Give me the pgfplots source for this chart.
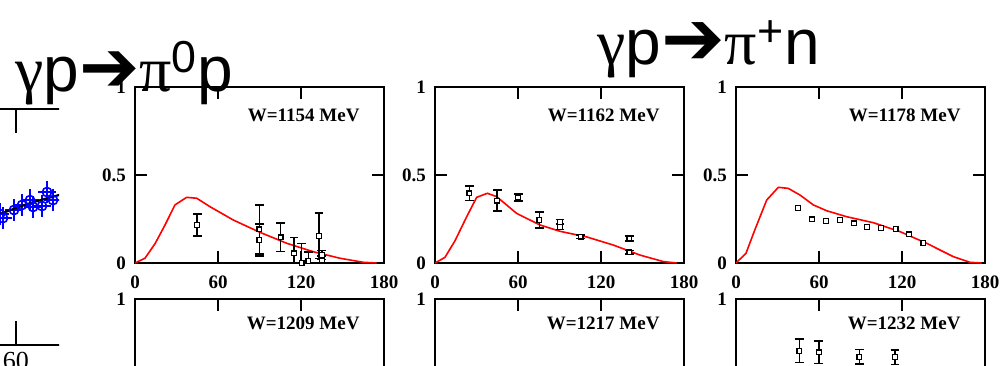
\documentclass[border=0pt]{standalone}
\usepackage{fontspec}
\setmainfont{Liberation Serif}
\newfontfamily\arial{Liberation Sans}
\newfontfamily\tms{Liberation Serif}
\newfontfamily\dejavu{DejaVu Sans}
\usepackage{pgfplots}
\pgfplotsset{compat=1.18}
\usepackage{pgfplotstable}

% red model curves
\pgfplotstableread{
x y
0 0
7.2 0.027
14.5 0.11
21.7 0.216
28.9 0.33
37.3 0.373
44.6 0.368
54.2 0.32
71.1 0.244
90.4 0.174
109.7 0.112
128.9 0.064
148.2 0.027
165.1 0.004
174.7 0
}\curveA
\pgfplotstableread{
x y
0 0
7.2 0.032
14.5 0.127
22.9 0.263
30.1 0.373
37.8 0.396
44.6 0.377
59.0 0.282
75.9 0.216
90.4 0.18
109.7 0.148
128.9 0.102
148.2 0.045
165.1 0.008
174.7 0
}\curveB
\pgfplotstableread{
x y
0 0
7.2 0.055
13.7 0.19
22.2 0.358
30.6 0.43
37.8 0.424
46.3 0.386
55.9 0.33
65.5 0.297
80 0.263
99.3 0.229
118.6 0.178
137.8 0.112
157.1 0.036
169.1 0.004
177.5 0
}\curveC
% data points
\pgfplotstableread{
x y e
45.0 0.216 0.062
89.9 0.191 0.14
89.9 0.131 0.09
105.3 0.146 0.08
114.9 0.055 0.09
120.5 0.0 0.11
125.3 0.013 0.05
133.0 0.155 0.13
135.0 0.045 0.025
135.0 0.015 0.025
}\dataA
\pgfplotstableread{
x y e
24.8 0.396 0.04
45.0 0.354 0.06
60.2 0.373 0.02
75.4 0.244 0.045
90.4 0.233 0.015
90.4 0.205 0.015
105.3 0.15 0.01
140.5 0.14 0.015
140.5 0.06 0.01
}\dataB
\pgfplotstableread{
x y
44.6 0.314
54.9 0.248
65.1 0.24
75.2 0.244
85.3 0.225
94.9 0.206
104.8 0.2
115.4 0.193
125.0 0.163
135.4 0.115
}\dataC
\pgfplotstableread{
x y e
45.8 0.706 0.066
59.8 0.697 0.063
89.2 0.672 0.04
115.0 0.669 0.04
}\dataF
% left partial panel (pi0 p)
\pgfplotstableread{
x y
40.8 0.555
44.4 0.538
57.6 0.572
67.2 0.593
76.8 0.614
80.4 0.585
91.2 0.589
97.2 0.648
104.4 0.614
}\dataL
\pgfplotstableread{
x y
30 0.55
40 0.555
76 0.60
112 0.636
130 0.66
}\curveL

\pgfplotsset{
  panel/.style={
    scale only axis, width=124.5pt, height=88pt,
    xmin=0, xmax=180, ymin=0, ymax=1,
    xtick={0,60,120,180}, ytick={0,0.5,1},
    xticklabels={0,60,120,180}, yticklabels={0,0.5,1},
    tick align=inside, major tick length=6pt,
    xtick pos=both, ytick pos=both,
    xticklabel pos=bottom, yticklabel pos=left,
    axis line style={line width=1pt},
    every tick/.style={black, line width=1pt},
    tick label style={font=\fontsize{9.5}{10}\selectfont\bfseries},
    xticklabel style={yshift=-3pt},
    yticklabel style={xshift=-1pt},
    clip=true,
  },
  redc/.style={red, line width=0.8pt, no marks},
  ptsm/.style={black, only marks, mark=square*, mark size=1.2pt,
    mark options={fill=white, line width=0.6pt}},
  pts/.style={ptsm,
    error bars/.cd, y dir=both, y explicit,
    error bar style={line width=0.8pt, black},
    error mark options={rotate=90, mark size=2.2pt, line width=0.8pt, black}},
}
\tikzset{wlab/.style={font=\fontsize{9.5}{10}\selectfont\bfseries, anchor=east}}

\begin{document}
\begin{tikzpicture}
\path[use as bounding box] (0,0) rectangle (500pt,182.5pt);
\clip (0,0) rectangle (500pt,182.5pt);

% left partial panel (cut off at the right by the next panel)
\begin{scope}
\clip (0,0) rectangle (29.5pt,182.5pt);
\begin{axis}[scale only axis, width=75pt, height=118pt,
  anchor=south west, at={(-17pt,10pt)},
  xmin=0, xmax=180, ymin=0, ymax=1,
  xtick={60}, ytick=\empty, xtick pos=both,
  xticklabel pos=bottom, tick align=inside, major tick length=12pt,
  axis line style={line width=1pt},
  every tick/.style={black, line width=1pt},
  tick label style={font=\fontsize{13}{14}\selectfont},
  xticklabels={60}]
\addplot[blue, only marks, mark=o, mark size=2.3pt, mark options={line width=0.8pt},
  error bars/.cd, y dir=both, y fixed=0.025, x dir=both, x fixed=4,
  error bar style={line width=0.8pt, blue},
  error mark options={mark size=2.6pt, line width=0.8pt, blue}]
  table[x=x,y=y] {\dataL};
\addplot[black, line width=1.1pt, no marks, smooth] table[x=x,y=y] {\curveL};
\end{axis}
\end{scope}

% top row
\begin{axis}[panel, anchor=south west, at={(67.5pt,51pt)}]
\addplot[redc] table[x=x,y=y] {\curveA};
\addplot[pts] table[x=x,y=y,y error=e] {\dataA};
\node[wlab] at (rel axis cs:0.93,0.84) {W=1154 MeV};
\end{axis}
\begin{axis}[panel, anchor=south west, at={(217.5pt,51pt)}]
\addplot[redc] table[x=x,y=y] {\curveB};
\addplot[pts] table[x=x,y=y,y error=e] {\dataB};
\node[wlab] at (rel axis cs:0.93,0.84) {W=1162 MeV};
\end{axis}
\begin{axis}[panel, anchor=south west, at={(368pt,51pt)}]
\addplot[redc] table[x=x,y=y] {\curveC};
\addplot[ptsm] table[x=x,y=y] {\dataC};
\node[wlab] at (rel axis cs:0.93,0.84) {W=1178 MeV};
\end{axis}

% bottom row
\begin{axis}[panel, anchor=north west, at={(67.5pt,33pt)}]
\node[wlab] at (rel axis cs:0.93,0.86) {W=1209 MeV};
\end{axis}
\begin{axis}[panel, anchor=north west, at={(217.5pt,33pt)}]
\node[wlab] at (rel axis cs:0.93,0.86) {W=1217 MeV};
\end{axis}
\begin{axis}[panel, anchor=north west, at={(368pt,33pt)}]
\addplot[pts] table[x=x,y=y,y error=e] {\dataF};
\node[wlab] at (rel axis cs:0.93,0.86) {W=1232 MeV};
\end{axis}

% titles
\node[anchor=base west, inner sep=0pt] at (7.5pt,137pt)
  {\arial\fontsize{32}{32}\selectfont{\tms γ}p{\dejavu\fontsize{36}{36}\selectfont ➔}{\tms π}\textsuperscript{0}p};
\node[anchor=base west, inner sep=0pt] at (298.5pt,150pt)
  {\arial\fontsize{32}{32}\selectfont{\tms γ}p{\dejavu\fontsize{38}{38}\selectfont ➔}{\tms π}\textsuperscript{+}n};
\end{tikzpicture}
\end{document}
